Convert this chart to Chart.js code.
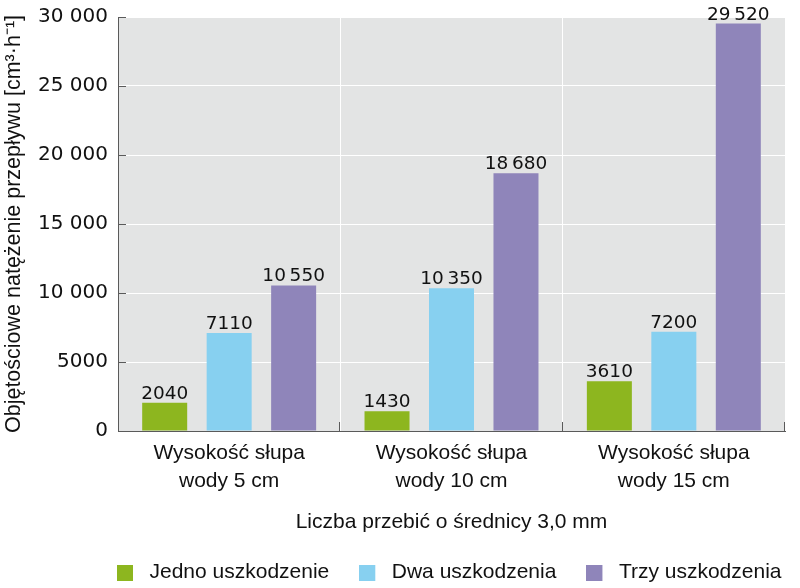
<!DOCTYPE html>
<html><head><meta charset="utf-8">
<script src="https://cdn.jsdelivr.net/npm/chart.js@4/dist/chart.umd.min.js"></script>
<style>html,body{margin:0;padding:0;background:#fff}#wrap{width:800px;height:588px;position:relative}</style>
</head><body><div id="wrap"><canvas id="c"></canvas></div>
<script>
const categories = [['Wysokość słupa', 'wody 5 cm'], ['Wysokość słupa', 'wody 10 cm'], ['Wysokość słupa', 'wody 15 cm']];
const seriesNames = ['Jedno uszkodzenie', 'Dwa uszkodzenia', 'Trzy uszkodzenia'];
const jedno = [2040, 1430, 3610];
const dwa = [7110, 10350, 7200];
const trzy = [10550, 18680, 29520];
const yTicks = [0, 5000, 10000, 15000, 20000, 25000, 30000];
const yTitle = 'Objętościowe natężenie przepływu [cm³·h⁻¹]';
const xTitle = 'Liczba przebić o średnicy 3,0 mm';
const colors = ['#8db61f', '#87d0f0', '#8f85ba'];

function fmt(v, sep) {
  const s = String(v);
  if (v < 10000) return s;
  return s.slice(0, s.length - 3) + sep + s.slice(s.length - 3);
}

const boxImgs = colors.map(c => {
  const cv = document.createElement('canvas');
  cv.width = 22; cv.height = 16;
  const g = cv.getContext('2d');
  g.fillStyle = c; g.fillRect(0, 0, 16, 16);
  return cv;
});

const AXIS = '#5a5a5a';
const BG = '#e3e4e4';

const bgPlugin = {
  id: 'bg',
  beforeDraw(chart) {
    const {ctx, chartArea: a} = chart;
    ctx.save(); ctx.fillStyle = BG;
    ctx.fillRect(a.left, a.top, a.right - a.left, a.bottom - a.top);
    ctx.restore();
  }
};

const tickPlugin = {
  id: 'inTicks',
  afterDraw(chart) {
    const {ctx} = chart;
    const xs = chart.scales.x, ys = chart.scales.y;
    ctx.save();
    ctx.strokeStyle = AXIS; ctx.lineWidth = 1;
    ctx.beginPath();
    ys.ticks.forEach(t => {
      const py = Math.round(ys.getPixelForValue(t.value)) + 0.5;
      ctx.moveTo(xs.left, py); ctx.lineTo(xs.left + 8, py);
    });
    const n = categories.length;
    const half = (xs.getPixelForValue(1) - xs.getPixelForValue(0)) / 2;
    for (let i = 0; i < n; i++) {
      const px = Math.round(xs.getPixelForValue(i) + half) - 0.5;
      ctx.moveTo(px, ys.bottom); ctx.lineTo(px, ys.bottom - 9);
    }
    ctx.stroke();
    ctx.restore();
  }
};

const labelPlugin = {
  id: 'vals',
  afterDatasetsDraw(chart) {
    const {ctx} = chart;
    ctx.save();
    ctx.font = '18.5px "DejaVu Sans"';
    ctx.fillStyle = '#111';
    ctx.textAlign = 'center';
    ctx.textBaseline = 'alphabetic';
    chart.data.datasets.forEach((ds, i) => {
      chart.getDatasetMeta(i).data.forEach((bar, j) => {
        ctx.fillText(fmt(ds.data[j], '\u2009'), bar.x, bar.y - 4);
      });
    });
    ctx.restore();
  }
};

const legendPos = {
  id: 'legendPos',
  afterLayout(chart) {
    const lg = chart.legend;
    if (lg) { lg.left = 87; lg.right = 840; lg.top = 532; }
  }
};

Chart.defaults.font.family = '"Liberation Sans", Arial, sans-serif';
Chart.defaults.color = '#111';

new Chart(document.getElementById('c'), {
  type: 'bar',
  data: {
    labels: categories,
    datasets: [
      {label: seriesNames[0], data: jedno, backgroundColor: colors[0]},
      {label: seriesNames[1], data: dwa, backgroundColor: colors[1]},
      {label: seriesNames[2], data: trzy, backgroundColor: colors[2]}
    ]
  },
  options: {
    responsive: true,
    maintainAspectRatio: false,
    animation: false,
    categoryPercentage: 0.87,
    barPercentage: 0.698,
    layout: {padding: {left: 0, right: 15, top: 17, bottom: 0}},
    plugins: {
      tooltip: {enabled: false},
      legend: {
        position: 'bottom',
        align: 'start',
        labels: {
          font: {size: 21},
          color: '#111',
          usePointStyle: true,
          pointStyleWidth: 22,
          padding: 30,
          generateLabels(chart) {
            const items = Chart.defaults.plugins.legend.labels.generateLabels(chart);
            items.forEach((it, i) => { it.pointStyle = boxImgs[i]; it.lineWidth = 0; });
            return items;
          }
        }
      }
    },
    scales: {
      x: {
        offset: true,
        grid: {color: '#ffffff', lineWidth: 1, offset: true, drawTicks: false},
        border: {color: AXIS, width: 1},
        ticks: {font: {size: 21, lineHeight: 1.333}, color: '#111', padding: 8, maxRotation: 0},
        title: {display: true, text: xTitle, font: {size: 21}, color: '#111', padding: {top: 0, bottom: -8}},
        afterFit(s) { s.height = 96; s.paddingLeft = 0; s.paddingRight = 0; }
      },
      y: {
        min: 0, max: 30000,
        afterBuildTicks(s) { s.ticks = yTicks.map(v => ({value: v})); },
        grid: {color: '#ffffff', lineWidth: 1, drawTicks: false},
        border: {color: AXIS, width: 1},
        ticks: {font: {size: 20, family: '"DejaVu Sans"'}, color: '#111', padding: 10,
          callback: v => fmt(v, '\u00a0')},
        title: {display: true, text: yTitle, font: {size: 21.5}, color: '#111', padding: {top: 1, bottom: 0}},
        afterFit(s) { s.width = 118; s.paddingTop = 0; s.paddingBottom = 0; }
      }
    }
  },
  plugins: [bgPlugin, tickPlugin, labelPlugin, legendPos]
});
</script>
</body></html>
